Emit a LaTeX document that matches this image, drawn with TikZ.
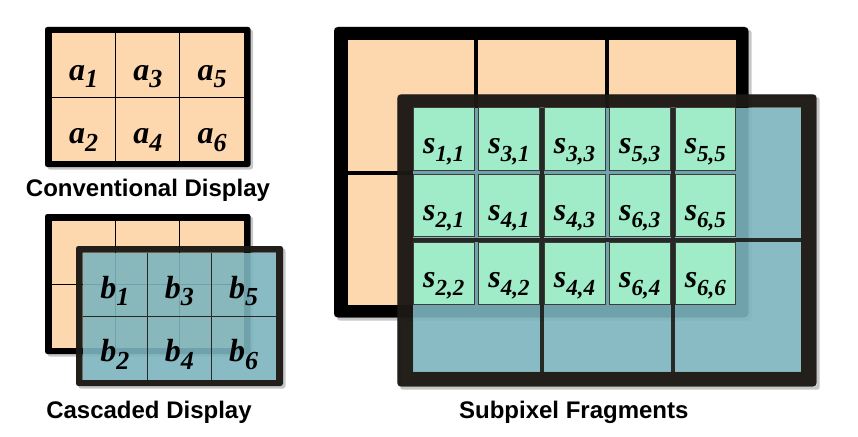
\documentclass[tikz,border=0pt]{standalone}
\usepackage{fontspec}
\setmainfont{Liberation Serif}
\newfontfamily\capfont{Liberation Sans}
\definecolor{peach}{HTML}{FDD7AE}
\definecolor{tealpix}{HTML}{7CB4BE}
\definecolor{greenpix}{HTML}{A0ECC8}
\definecolor{darkframe}{HTML}{1C1915}
\newcommand{\pixlbl}[3]{\fontsize{32}{32}\selectfont\bfseries\itshape #1\raisebox{-7.5pt}{\fontsize{#3}{#3}\selectfont #2}}
\tikzset{
	pixframe/.style={fill=black, rounded corners=2.5pt},
	dropshade/.style={fill=black, opacity=.22, even odd rule, rounded corners=2.5pt},
	lbl/.style={anchor=base, inner sep=0pt},
	subcell/.style={fill=greenpix, draw=darkframe!85, line width=.6pt},
	captiontext/.style={anchor=base, inner sep=0pt, font=\capfont\bfseries\fontsize{24}{24}\selectfont},
}
\begin{document}
\begin{tikzpicture}[x=1pt, y=-1pt, line cap=butt]
	\useasboundingbox (0,0) rectangle (858,436);
	
	% conventional display
	\fill[dropshade] (47.5,29.5) rectangle (253,169.5) (45,27) rectangle (250.5,167);
	\fill[pixframe] (45,27) rectangle (250.5,167);
	\fill[peach] (51.5,33.5) rectangle (244,160.5);
	\draw[line width=1pt] (115.7,33.5)--(115.7,160.5) (179.8,33.5)--(179.8,160.5) (51.5,97)--(244,97);
	\foreach \c in {0,1,2}
	\foreach \r in {0,1}{
		\pgfmathtruncatemacro{\k}{2*\c+\r+1}
		\node[lbl] (a\k) at (83.6+64.2*\c, 80+63.8*\r) {\pixlbl{a}{\k}{26}};
	}
	\node[captiontext] (conv) at (148,196.7) {Conventional Display};
	
	% cascaded display
	\fill[dropshade] (47.5,216.5) rectangle (253,356.5) (45,214) rectangle (250.5,354);
	\fill[pixframe] (45,214) rectangle (250.5,354);
	\fill[peach] (51.5,220.5) rectangle (244,347.5);
	\draw[line width=1pt] (115.7,220.5)--(115.7,347.5) (179.8,220.5)--(179.8,347.5) (51.5,284)--(244,284);
	\fill[dropshade] (78.5,248.5) rectangle (285.5,388.5) (76,246) rectangle (283,386);
	\fill[darkframe, opacity=.97, even odd rule] [rounded corners=2.5pt] (76,246) rectangle (283,386) [sharp corners] (82.7,252.7) rectangle (276,380);
	\fill[tealpix, opacity=.9] (82.7,252.7) rectangle (276,380);
	\draw[darkframe, opacity=.9, line width=1pt] (147.1,252.7)--(147.1,380) (211.5,252.7)--(211.5,380) (82.7,316.3)--(276,316.3);
	\foreach \c in {0,1,2}
	\foreach \r in {0,1}{
		\pgfmathtruncatemacro{\k}{2*\c+\r+1}
		\node[lbl] (b\k) at (114.9+64.4*\c, 298+63.7*\r) {\pixlbl{b}{\k}{26}};
	}
	\node[captiontext] (casc) at (149,418.3) {Cascaded Display};
	
	% subpixel fragments
	\fill[dropshade] (337,30) rectangle (751.5,320.5) (334,27) rectangle (748.5,317.5);
	\fill[pixframe, rounded corners=4pt] (334,27) rectangle (748.5,317.5);
	\fill[peach] (348,40.5) rectangle (735.5,305);
	\draw[line width=4pt] (476,40.5)--(476,305) (607.3,40.5)--(607.3,305) (348,172.5)--(735.5,172.5);
	\fill[dropshade] (400.3,97.3) rectangle (819.7,389.7) (397.3,94.3) rectangle (816.7,386.7);
	\fill[darkframe, opacity=.97, even odd rule] [rounded corners=4pt] (397.3,94.3) rectangle (816.7,386.7) [sharp corners] (413.3,107.7) rectangle (801,371.7);
	\fill[tealpix, opacity=.9] (413.3,107.7) rectangle (801,371.7);
	\draw[darkframe, opacity=.9, line width=4pt] (541.7,107.7)--(541.7,371.7) (672.7,107.7)--(672.7,371.7) (413.3,240)--(801,240);
	\foreach \xa/\xb/\p/\q [count=\c] in {413.3/474/1/1, 478.7/539.3/3/1, 544/605/3/3, 609.3/670/5/3, 675/735.7/5/5}{
		\pgfmathtruncatemacro{\pp}{\p+1}
		\pgfmathtruncatemacro{\qq}{\q+1}
		\foreach \ya/\yb/\sub [count=\r] in {107.7/170/{\p,\q}, 174.3/236.7/{\pp,\q}, 242.3/304.3/{\pp,\qq}}{
			\draw[subcell] (\xa,\ya) rectangle (\xb,\yb);
			\node[lbl] (s\c\r) at ({(\xa+\xb)/2},\yb-16.5) {\pixlbl{s}{\sub}{23}};
		}
	}
	\node[captiontext] (subpix) at (573.8,418) {Subpixel Fragments};
\end{tikzpicture}
\end{document}
